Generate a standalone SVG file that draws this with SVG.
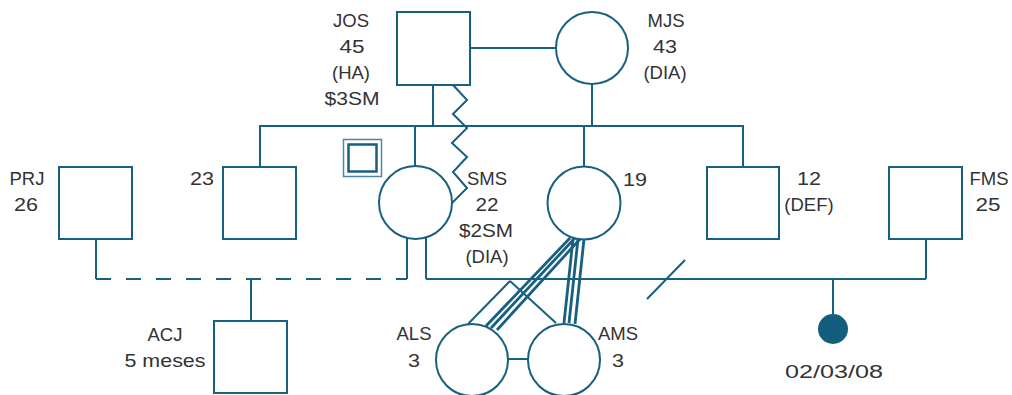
<svg xmlns="http://www.w3.org/2000/svg" width="1012" height="395" viewBox="0 0 1012 395">
<style>
.n{fill:#fff;stroke:#17607f;stroke-width:2}
.l{fill:none;stroke:#17607f;stroke-width:2}
.b{fill:none;stroke:#17607f;stroke-width:2.8}
.t{font-family:"Liberation Sans",Arial,sans-serif;font-size:18.5px;fill:#333;text-anchor:middle}
</style>
<rect width="1012" height="395" fill="#fff"/>
<g id="connectors">
<line class="l" x1="470" y1="48" x2="556" y2="48"/>
<line class="l" x1="433" y1="85" x2="433" y2="126"/>
<line class="l" x1="592" y1="84" x2="592" y2="126"/>
<line class="l" x1="259" y1="126" x2="744" y2="126"/>
<line class="l" x1="260" y1="126" x2="260" y2="167"/>
<line class="l" x1="415" y1="126" x2="415" y2="167"/>
<line class="l" x1="584" y1="126" x2="584" y2="167"/>
<line class="l" x1="743" y1="126" x2="743" y2="167"/>
<polyline class="l" points="453,85 467,100 453,114 467,128 452,143 467,157 453,172 467,188 452,203"/>
<line class="l" x1="96" y1="239" x2="96" y2="279"/>
<line class="l" x1="96" y1="279" x2="407" y2="279" stroke-dasharray="15 15"/>
<line class="l" x1="407" y1="237" x2="407" y2="279"/>
<line class="l" x1="251" y1="279" x2="251" y2="321"/>
<line class="l" x1="426" y1="237" x2="426" y2="279"/>
<line class="l" x1="426" y1="279" x2="926" y2="279"/>
<line class="l" x1="926" y1="239" x2="926" y2="279"/>
<line class="l" x1="647" y1="299" x2="685" y2="260"/>
<line class="l" x1="833" y1="279" x2="833" y2="314"/>
<line class="l" x1="508" y1="359" x2="528" y2="359"/>
<line class="l" x1="510" y1="281" x2="468" y2="324" stroke-width="1.5"/>
<line class="l" x1="510" y1="281" x2="556" y2="323" stroke-width="1.5"/>
<line class="b" x1="570" y1="238" x2="486" y2="326"/>
<line class="b" x1="575" y1="238" x2="491" y2="328"/>
<line class="b" x1="580" y1="239" x2="497" y2="330"/>
<line class="b" x1="573" y1="239" x2="564" y2="323"/>
<line class="b" x1="578" y1="239" x2="569" y2="323"/>
<line class="b" x1="584" y1="239" x2="575" y2="324"/>
</g>
<g id="JOS"><rect class="n" x="397" y="12" width="73" height="73"/>
<text class="t" x="351" y="27">JOS</text><text class="t" x="352" y="53" textLength="25" lengthAdjust="spacingAndGlyphs">45</text><text class="t" x="351" y="79">(HA)</text><text class="t" x="352" y="105" textLength="55" lengthAdjust="spacingAndGlyphs">$3SM</text></g>
<g id="MJS"><circle class="n" cx="592" cy="48" r="36"/>
<text class="t" x="666" y="27">MJS</text><text class="t" x="665" y="53" textLength="24" lengthAdjust="spacingAndGlyphs">43</text><text class="t" x="665" y="79">(DIA)</text></g>
<g id="PRJ"><rect class="n" x="59" y="167" width="73" height="72"/>
<text class="t" x="27" y="185">PRJ</text><text class="t" x="26" y="211" textLength="24" lengthAdjust="spacingAndGlyphs">26</text></g>
<g id="N23"><rect class="n" x="223" y="167" width="73" height="72"/>
<text class="t" x="202" y="185" textLength="24" lengthAdjust="spacingAndGlyphs">23</text></g>
<g id="marker"><rect x="343.5" y="139.5" width="38" height="37" fill="#fff" stroke="#4f86a0" stroke-width="1.5"/>
<rect x="348.5" y="144.5" width="28" height="27" fill="#fff" stroke="#17607f" stroke-width="2.5"/></g>
<g id="SMS"><circle class="n" cx="415.5" cy="202.5" r="36.5"/>
<text class="t" x="487" y="185">SMS</text><text class="t" x="487" y="211" textLength="23" lengthAdjust="spacingAndGlyphs">22</text><text class="t" x="486" y="237" textLength="54" lengthAdjust="spacingAndGlyphs">$2SM</text><text class="t" x="487" y="263">(DIA)</text></g>
<g id="N19"><circle class="n" cx="584" cy="203" r="36.5"/>
<text class="t" x="635" y="186" textLength="24" lengthAdjust="spacingAndGlyphs">19</text></g>
<g id="N12"><rect class="n" x="707" y="167" width="72" height="72"/>
<text class="t" x="809" y="185" textLength="24" lengthAdjust="spacingAndGlyphs">12</text><text class="t" x="809" y="211">(DEF)</text></g>
<g id="FMS"><rect class="n" x="889" y="167" width="73" height="72"/>
<text class="t" x="989" y="185">FMS</text><text class="t" x="988" y="211" textLength="25" lengthAdjust="spacingAndGlyphs">25</text></g>
<g id="ACJ"><rect class="n" x="214" y="321" width="73" height="72"/>
<text class="t" x="165" y="341">ACJ</text><text class="t" x="165" y="367" textLength="81" lengthAdjust="spacingAndGlyphs">5 meses</text></g>
<g id="ALS"><circle class="n" cx="472" cy="360" r="36"/>
<text class="t" x="414" y="340">ALS</text><text class="t" x="414" y="367" textLength="12" lengthAdjust="spacingAndGlyphs">3</text></g>
<g id="AMS"><circle class="n" cx="564" cy="360" r="36"/>
<text class="t" x="618" y="340">AMS</text><text class="t" x="618" y="367" textLength="12" lengthAdjust="spacingAndGlyphs">3</text></g>
<g id="loss"><circle cx="833" cy="329" r="15" fill="#135e7d"/>
<text class="t" x="834" y="378" textLength="98" lengthAdjust="spacingAndGlyphs">02/03/08</text></g>
</svg>
